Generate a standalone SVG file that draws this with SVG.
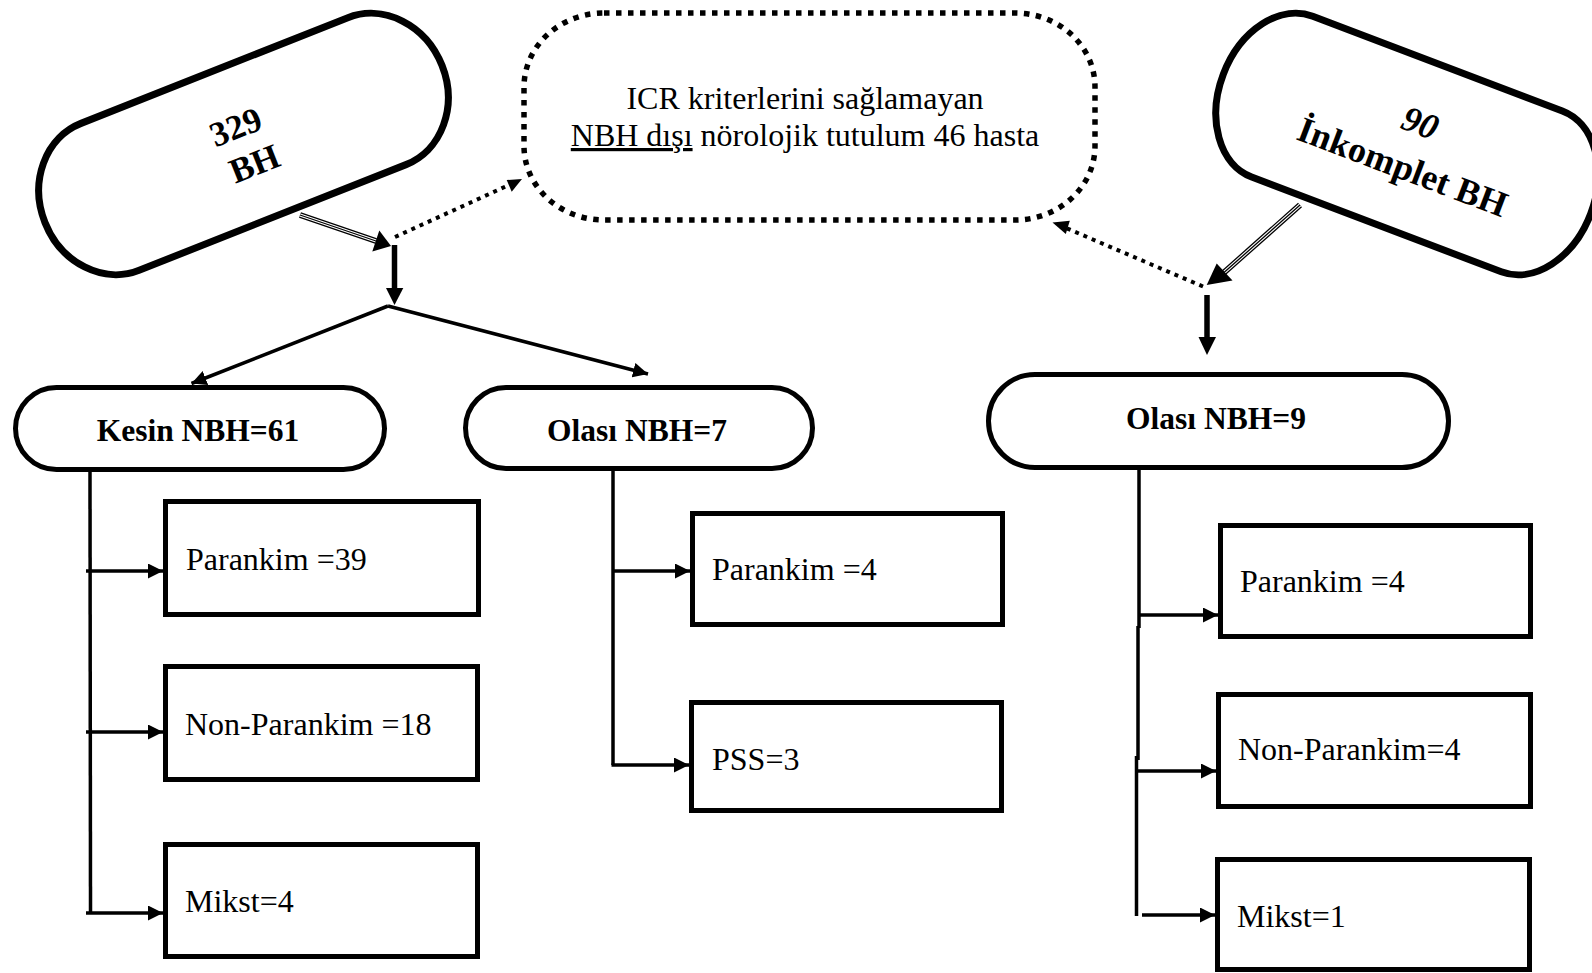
<svg xmlns="http://www.w3.org/2000/svg" width="1592" height="973" viewBox="0 0 1592 973">
<defs>
<style>
.bg{fill:#fff}
.cap{fill:#fff;stroke:#000;stroke-width:7}
.term{fill:#fff;stroke:#000;stroke-width:5}
.box{fill:#fff;stroke:#000;stroke-width:5}
.dot{fill:none;stroke:#000;stroke-width:5.5;stroke-dasharray:5.5 6.5}
.ln{fill:none;stroke:#000;stroke-width:3.5}
.thick{fill:none;stroke:#000;stroke-width:5.5}
.dl{fill:none;stroke:#000;stroke-width:4;stroke-dasharray:4 5}
.dbA{fill:none;stroke:#000;stroke-width:6}
.dbB{fill:none;stroke:#fff;stroke-width:3.4}
.dbC{fill:none;stroke:#000;stroke-width:1.3}
.head{fill:#000}
.t{font-family:"Liberation Serif","Times New Roman",serif;font-size:32px;fill:#000}
.tb{font-family:"Liberation Serif","Times New Roman",serif;font-size:31.5px;font-weight:bold;fill:#000}
</style>
<marker id="ah" markerUnits="userSpaceOnUse" markerWidth="16" markerHeight="16" refX="15" refY="7.5" orient="auto"><path d="M0,0 L15,7.5 L0,15 z" fill="#000"/></marker>
</defs>
<rect class="bg" x="0" y="0" width="1592" height="973"/>

<g id="connectors">
  <path class="dbA" d="M300,215 L376,241"/>
  <path class="dbB" d="M300,215 L376,241"/>
  <path class="dbC" d="M300,215 L376,241"/>
  <polygon class="head" points="391,246 372.3,251.4 379.3,230.6"/>
  <path class="thick" d="M394.5,245 V289"/>
  <polygon class="head" points="386,288 403.3,288 394.5,305"/>
  <path class="dl" d="M395,237 L509,185"/>
  <polygon class="head" points="522,179 506.7,180 511.7,191.7"/>
  <path class="ln" d="M388,306 L191.5,383.5" marker-end="url(#ah)"/>
  <path class="ln" d="M388,306 L648,374" marker-end="url(#ah)"/>
  <path class="dbA" d="M1300,205 L1224,272.5"/>
  <path class="dbB" d="M1300,205 L1224,272.5"/>
  <path class="dbC" d="M1300,205 L1224,272.5"/>
  <polygon class="head" points="1206.7,285 1216.7,263.5 1232.5,280.5"/>
  <path class="dl" d="M1203,286.5 L1066,228"/>
  <polygon class="head" points="1052.5,222.5 1065.8,234 1069.8,220.8"/>
  <path class="thick" d="M1207,295 V338"/>
  <polygon class="head" points="1198.5,337 1216,337 1207,355"/>
  <path class="ln" d="M90,472 L90.5,913"/>
  <path class="ln" d="M86,571 H163" marker-end="url(#ah)"/>
  <path class="ln" d="M86,732 H163" marker-end="url(#ah)"/>
  <path class="ln" d="M86,913 H163" marker-end="url(#ah)"/>
  <path class="ln" d="M613,471 V765"/>
  <path class="ln" d="M613,571 H690" marker-end="url(#ah)"/>
  <path class="ln" d="M611.5,765 H689" marker-end="url(#ah)"/>
  <path class="ln" d="M1139,470 V628"/>
  <path class="ln" d="M1138,626 V760"/>
  <path class="ln" d="M1136.5,756 V916"/>
  <path class="ln" d="M1139,615 H1218" marker-end="url(#ah)"/>
  <path class="ln" d="M1137,771 H1216" marker-end="url(#ah)"/>
  <path class="ln" d="M1142,915 H1215" marker-end="url(#ah)"/>
</g>

<g id="n329">
  <rect class="cap" x="-213.5" y="-79" width="427" height="158" rx="70" ry="79" transform="translate(243.5,144) rotate(-21.6)"/>
  <g transform="translate(243.5,144) rotate(-21.6)">
    <text class="tb" style="font-size:35px" x="-1" y="-7" text-anchor="middle">329</text>
    <text class="tb" style="font-size:35px" x="3" y="34" text-anchor="middle">BH</text>
  </g>
</g>

<g id="nICR">
  <rect class="dot" x="524" y="13" width="571" height="207" rx="80" ry="74"/>
  <text class="t" x="805" y="109" text-anchor="middle">ICR kriterlerini sağlamayan</text>
  <text class="t" x="805" y="146" text-anchor="middle"><tspan text-decoration="underline">NBH dışı</tspan> nörolojik tutulum 46 hasta</text>
</g>

<g id="n90">
  <rect class="cap" x="-196.5" y="-86" width="393" height="172" rx="63" ry="86" transform="translate(1407,144) rotate(20.8)"/>
  <g transform="translate(1407,144) rotate(20.8)">
    <text class="tb" style="font-size:36px;font-style:italic" x="5" y="-12.5" text-anchor="middle">90</text>
    <text class="tb" style="font-size:36px" x="4" y="35" text-anchor="middle">İnkomplet BH</text>
  </g>
</g>

<g id="nKesin">
  <rect class="term" x="15.5" y="387.5" width="369" height="82" rx="41"/>
  <text class="tb" x="198" y="441" text-anchor="middle">Kesin NBH=61</text>
</g>
<g id="nOlasi7">
  <rect class="term" x="465.5" y="387.5" width="347" height="81" rx="40.5"/>
  <text class="tb" x="637" y="441" text-anchor="middle">Olası NBH=7</text>
</g>
<g id="nOlasi9">
  <rect class="term" x="988.5" y="374.5" width="460" height="93" rx="46.5"/>
  <text class="tb" x="1216" y="429" text-anchor="middle">Olası NBH=9</text>
</g>

<g id="nPar39">
  <rect class="box" x="165.5" y="501.5" width="313" height="113"/>
  <text class="t" x="186" y="570">Parankim =39</text>
</g>
<g id="nNonPar18">
  <rect class="box" x="165.5" y="666.5" width="312" height="113"/>
  <text class="t" x="185" y="735">Non-Parankim =18</text>
</g>
<g id="nMikst4">
  <rect class="box" x="165.5" y="844.5" width="312" height="112"/>
  <text class="t" x="185" y="912">Mikst=4</text>
</g>

<g id="nPar4a">
  <rect class="box" x="692.5" y="513.5" width="310" height="111"/>
  <text class="t" x="712" y="580">Parankim =4</text>
</g>
<g id="nPSS3">
  <rect class="box" x="691.5" y="702.5" width="310" height="108"/>
  <text class="t" x="712" y="770">PSS=3</text>
</g>

<g id="nPar4b">
  <rect class="box" x="1220.5" y="525.5" width="310" height="111"/>
  <text class="t" x="1240" y="592">Parankim =4</text>
</g>
<g id="nNonPar4">
  <rect class="box" x="1218.5" y="694.5" width="312" height="112"/>
  <text class="t" x="1238" y="760">Non-Parankim=4</text>
</g>
<g id="nMikst1">
  <rect class="box" x="1217.5" y="859.5" width="312" height="110"/>
  <text class="t" x="1237" y="927">Mikst=1</text>
</g>
</svg>
